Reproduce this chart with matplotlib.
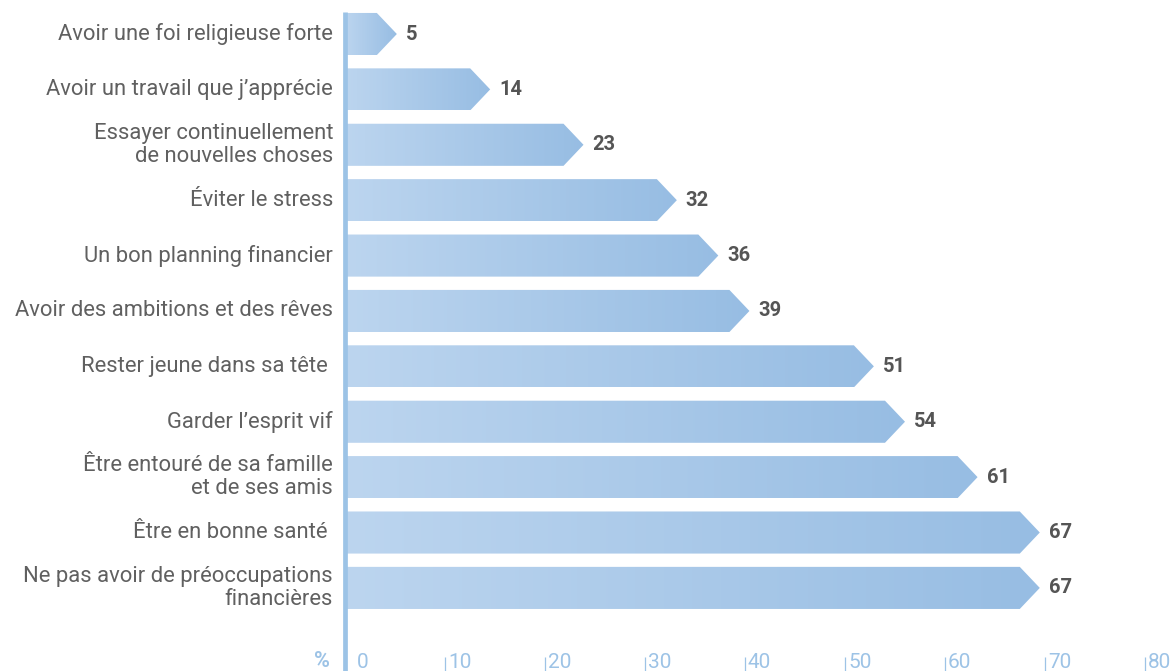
import numpy as np
import matplotlib.pyplot as plt
from matplotlib.patches import Polygon
from matplotlib.colors import LinearSegmentedColormap

labels = ['Avoir une foi religieuse forte',
          'Avoir un travail que j\u2019apprécie',
          'Essayer continuellement\nde nouvelles choses',
          'Éviter le stress',
          'Un bon planning financier',
          'Avoir des ambitions et des rêves',
          'Rester jeune dans sa tête ',
          'Garder l\u2019esprit vif',
          'Être entouré de sa famille\net de ses amis',
          'Être en bonne santé ',
          'Ne pas avoir de préoccupations\nfinancières']
values = [5, 14, 23, 32, 36, 39, 51, 54, 61, 67, 67]
ticks = [0, 10, 20, 30, 40, 50, 60, 70, 80]

plt.rcParams['font.family'] = ['Roboto', 'DejaVu Sans']

fig = plt.figure(figsize=(11.72, 6.71), dpi=100)
ax = fig.add_axes([345 / 1172, 0, (1172 - 345) / 1172, 1])

cmap = LinearSegmentedColormap.from_list('bar', ['#bcd5ef', '#97bde3'])
grad = np.linspace(0, 1, 256).reshape(1, -1)
h = 0.38

for i, v in enumerate(values):
    tip = v * 1.037
    body = tip - 2.0
    poly = Polygon([(0, i - h), (body, i - h), (tip, i), (body, i + h), (0, i + h)],
                   closed=True, facecolor='none', edgecolor='none')
    ax.add_patch(poly)
    im = ax.imshow(grad, cmap=cmap, aspect='auto', extent=[0, tip, i + h, i - h],
                   interpolation='bilinear', zorder=2)
    im.set_clip_path(poly)
    ax.text(tip + 0.9, i, str(v), ha='left', va='center', fontsize=14.5,
            fontweight='bold', color='#555555')
    ax.text(-1.2, i, labels[i], ha='right', va='center', fontsize=15.8,
            color='#606060', linespacing=1.15, clip_on=False)

ax.set_xlim(0, 82.7)
ax.set_ylim(11.5, -0.614)

# vertical axis line
ax.plot([0, 0], [-0.4, 11.5], color='#9cc3e6', linewidth=3.4, solid_capstyle='butt',
        zorder=3, clip_on=False)

# tick marks and labels along the bottom
for t in ticks:
    if t > 0:
        ax.plot([t - 0.05, t - 0.05], [11.24, 11.5], color='#9dc3e6', linewidth=0.9,
                solid_capstyle='butt', clip_on=False)
        ax.text(t + 0.3, 11.34, str(t), ha='left', va='center', fontsize=15,
                color='#9dc3e6', clip_on=False)
    else:
        ax.text(1.2, 11.34, str(t), ha='left', va='center', fontsize=15,
                color='#9dc3e6', clip_on=False)
ax.text(-2.3, 11.32, '%', ha='center', va='center', fontsize=15.5,
        fontweight='bold', color='#9dc3e6', clip_on=False)

ax.axis('off')
fig.savefig('out.png', dpi=100)
